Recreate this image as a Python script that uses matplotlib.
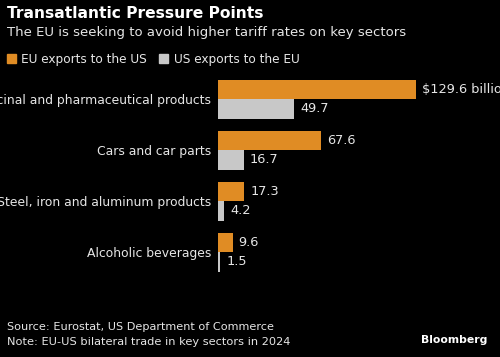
import matplotlib
matplotlib.use('Agg')
import matplotlib.pyplot as plt
from matplotlib.patches import Patch
import numpy as np

# data (2024, $ billions)
sectors = ['Medicinal and pharmaceutical products', 'Cars and car parts',
           'Steel, iron and aluminum products', 'Alcoholic beverages']
eu_to_us = [129.6, 67.6, 17.3, 9.6]
us_to_eu = [49.7, 16.7, 4.2, 1.5]
series_names = ['EU exports to the US', 'US exports to the EU']

orange = '#E08C24'
grey = '#C8C8C8'
txt = '#E6E6E6'
W, H = 500, 357

plt.rcParams['font.family'] = ['DejaVu Sans']
fig = plt.figure(figsize=(W / 100, H / 100), dpi=100, facecolor='black')

# axes placed in pixel terms: left edge of bars at x=218, groups every 51px
left, right, top, bottom = 218, 500, 70, 290
ax = fig.add_axes([left / W, 1 - bottom / H, (right - left) / W, (bottom - top) / H])
ax.set_facecolor('black')
px_per_unit = 198 / 129.6
ax.set_xlim(0, (right - left) / px_per_unit)
ax.set_ylim(3 + (bottom - 252) / 51, -(99 - top) / 51)

y = np.arange(len(sectors))
h = 19.5 / 51
ax.barh(y - h / 2, eu_to_us, height=h, color=orange)
ax.barh(y + h / 2, us_to_eu, height=h, color=grey)

pad = 6 / px_per_unit
for i in range(len(sectors)):
    lab = '$%.1f billion' % eu_to_us[i] if i == 0 else '%.1f' % eu_to_us[i]
    ax.text(eu_to_us[i] + pad, y[i] - h / 2, lab, color=txt, fontsize=9.3, va='center')
    ax.text(us_to_eu[i] + pad, y[i] + h / 2, '%.1f' % us_to_eu[i], color=txt, fontsize=9.3, va='center')

ax.set_yticks(y)
ax.set_yticklabels(sectors, color=txt, fontsize=8.9)
ax.tick_params(axis='y', length=0, pad=5)
ax.set_xticks([])
for s in ax.spines.values():
    s.set_visible(False)

fig.text(7 / W, 1 - 6 / H, 'Transatlantic Pressure Points', color='white', fontsize=11.2,
         fontweight='bold', va='top')
fig.text(7 / W, 1 - 26 / H, 'The EU is seeking to avoid higher tariff rates on key sectors',
         color=txt, fontsize=9.5, va='top')

handles = [Patch(color=orange, label=series_names[0]), Patch(color=grey, label=series_names[1])]
fig.legend(handles=handles, loc='upper left', bbox_to_anchor=(7 / W, 1 - 53 / H), ncol=2,
           frameon=False, fontsize=8.7, labelcolor=txt, handlelength=0.75, handleheight=0.75,
           handletextpad=0.45, columnspacing=1.0, borderaxespad=0, borderpad=0)

fig.text(7 / W, 1 - 322 / H, 'Source: Eurostat, US Department of Commerce', color=txt,
         fontsize=8.1, va='top')
fig.text(7 / W, 1 - 337 / H, 'Note: EU-US bilateral trade in key sectors in 2024', color=txt,
         fontsize=8.2, va='top')
fig.text(487 / W, 1 - 340 / H, 'Bloomberg', color='white', fontsize=7.8, fontweight='bold',
         ha='right', va='center')

fig.savefig('out.png', dpi=100, facecolor='black')
